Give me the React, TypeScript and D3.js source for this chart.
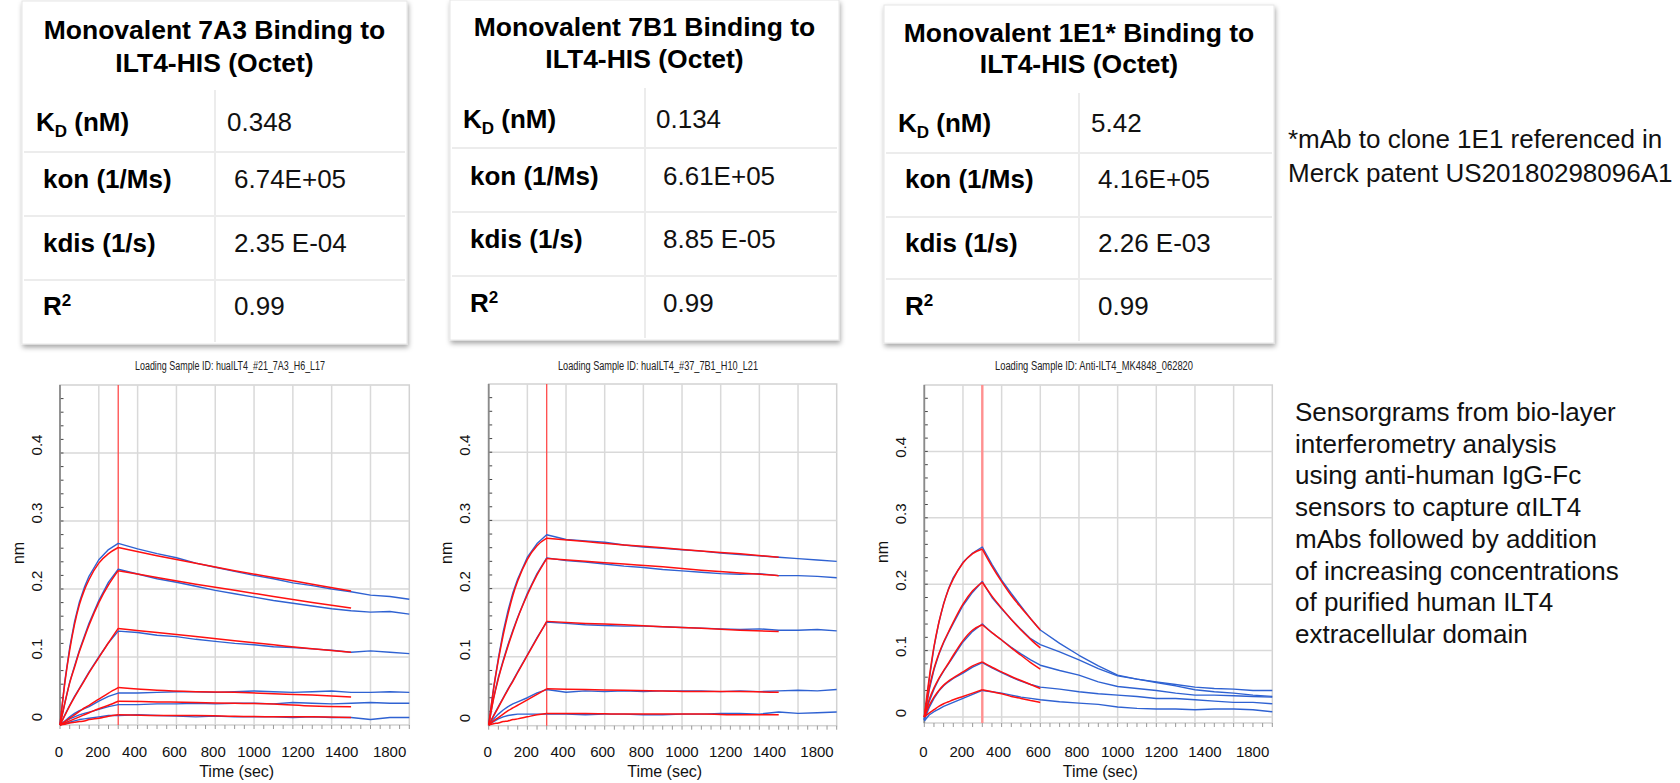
import React from 'react';
import * as d3 from 'd3';

const FONT = '"Liberation Sans", Arial, Helvetica, sans-serif';
const NARROW = '"Liberation Sans Narrow", "Liberation Sans", Arial, sans-serif';

// ---- table content ----
const tableTitles = [
  ['Monovalent 7A3 Binding to', 'ILT4-HIS (Octet)'],
  ['Monovalent 7B1 Binding to', 'ILT4-HIS (Octet)'],
  ['Monovalent 1E1* Binding to', 'ILT4-HIS (Octet)'],
];
const kdValues = ['0.348', '0.134', '5.42'];
const konValues = ['6.74E+05', '6.61E+05', '4.16E+05'];
const kdisValues = ['2.35 E-04', '8.85 E-05', '2.26 E-03'];
const r2Values = ['0.99', '0.99', '0.99'];

const footnote = ['*mAb to clone 1E1 referenced in', 'Merck patent US20180298096A1'];
const caption = [
  'Sensorgrams from bio-layer',
  'interferometry analysis',
  'using anti-human IgG-Fc',
  'sensors to capture \u03b1ILT4',
  'mAbs followed by addition',
  'of increasing concentrations',
  'of purified human ILT4',
  'extracellular domain',
];

const sampleIds = [
  'Loading Sample ID: huaILT4_#21_7A3_H6_L17',
  'Loading Sample ID: huaILT4_#37_7B1_H10_L21',
  'Loading Sample ID: Anti-ILT4_MK4848_062820',
];

// ---- axes ----
const xTicks = [0, 200, 400, 600, 800, 1000, 1200, 1400, 1800];
const yTicks = [0, 0.1, 0.2, 0.3, 0.4];

// ---- time grids (sec) ----
const assocT = [0, 25, 50, 75, 100, 125, 150, 200, 250, 300];
const dissocT = [300, 400, 500, 600, 700, 800, 900, 1000, 1100, 1200, 1300, 1400, 1500, 1600, 1700, 1800];
const fitT = [300, 500, 700, 900, 1100, 1300, 1500];
const dissocT1E1 = [300, 350, 400, 450, 500, 550, 600, 700, 800, 900, 1000, 1100, 1200, 1300, 1400, 1500, 1600, 1700, 1800];
const fitT1E1 = [300, 350, 400, 450, 500, 550, 600];

// ---- 7A3 (nm) ----
const assoc7A3Data = [
  [0, 0.065, 0.114, 0.152, 0.181, 0.202, 0.219, 0.243, 0.258, 0.267],
  [0, 0.033, 0.063, 0.087, 0.110, 0.130, 0.150, 0.183, 0.210, 0.229],
  [0, 0.015, 0.029, 0.042, 0.054, 0.066, 0.078, 0.100, 0.121, 0.138],
  [0, 0.006, 0.012, 0.017, 0.021, 0.024, 0.027, 0.035, 0.042, 0.047],
  [0, 0.005, 0.009, 0.012, 0.015, 0.017, 0.019, 0.023, 0.027, 0.030],
  [0, 0.002, 0.004, 0.006, 0.008, 0.009, 0.010, 0.012, 0.014, 0.014],
];
const assoc7A3Fit = [
  [0, 0.062, 0.110, 0.148, 0.177, 0.198, 0.214, 0.238, 0.252, 0.261],
  [0, 0.032, 0.062, 0.085, 0.108, 0.128, 0.147, 0.180, 0.206, 0.227],
  [0, 0.014, 0.028, 0.041, 0.053, 0.065, 0.077, 0.099, 0.121, 0.142],
  [0, 0.005, 0.010, 0.015, 0.020, 0.025, 0.029, 0.038, 0.047, 0.055],
  [0, 0.003, 0.006, 0.009, 0.012, 0.015, 0.018, 0.024, 0.029, 0.035],
  [0, 0.001, 0.003, 0.004, 0.005, 0.006, 0.008, 0.010, 0.013, 0.015],
];
const dissoc7A3Data = [
  [0.267, 0.259, 0.252, 0.246, 0.238, 0.232, 0.226, 0.220, 0.215, 0.209, 0.205, 0.200, 0.196, 0.191, 0.189, 0.185],
  [0.229, 0.222, 0.215, 0.210, 0.204, 0.198, 0.193, 0.188, 0.183, 0.179, 0.175, 0.171, 0.168, 0.166, 0.167, 0.163],
  [0.138, 0.136, 0.132, 0.130, 0.126, 0.123, 0.120, 0.118, 0.115, 0.114, 0.112, 0.110, 0.107, 0.109, 0.107, 0.105],
  [0.047, 0.047, 0.048, 0.049, 0.049, 0.048, 0.049, 0.050, 0.049, 0.048, 0.049, 0.050, 0.048, 0.048, 0.049, 0.048],
  [0.030, 0.030, 0.031, 0.031, 0.032, 0.031, 0.032, 0.032, 0.031, 0.033, 0.032, 0.031, 0.032, 0.033, 0.032, 0.032],
  [0.014, 0.015, 0.014, 0.013, 0.012, 0.013, 0.012, 0.012, 0.012, 0.011, 0.012, 0.011, 0.011, 0.008, 0.011, 0.011],
];
const dissoc7A3Fit = [
  [0.261, 0.249, 0.238, 0.227, 0.217, 0.207, 0.197],
  [0.227, 0.217, 0.207, 0.198, 0.189, 0.180, 0.172],
  [0.142, 0.136, 0.130, 0.124, 0.118, 0.112, 0.107],
  [0.055, 0.051, 0.049, 0.048, 0.046, 0.044, 0.041],
  [0.035, 0.034, 0.033, 0.032, 0.031, 0.028, 0.027],
  [0.015, 0.014, 0.014, 0.013, 0.012, 0.012, 0.011],
];

// ---- 7B1 (nm) ----
const assoc7B1Data = [
  [0, 0.054, 0.098, 0.137, 0.168, 0.194, 0.214, 0.246, 0.266, 0.279],
  [0, 0.040, 0.070, 0.095, 0.118, 0.139, 0.158, 0.193, 0.222, 0.245],
  [0, 0.014, 0.027, 0.040, 0.053, 0.065, 0.078, 0.103, 0.128, 0.151],
  [0, 0.009, 0.016, 0.022, 0.027, 0.031, 0.034, 0.040, 0.047, 0.052],
  [0, 0.005, 0.009, 0.012, 0.014, 0.015, 0.016, 0.016, 0.016, 0.016],
];
const assoc7B1Fit = [
  [0, 0.052, 0.095, 0.132, 0.163, 0.190, 0.211, 0.243, 0.263, 0.274],
  [0, 0.038, 0.068, 0.093, 0.116, 0.137, 0.157, 0.191, 0.220, 0.244],
  [0, 0.013, 0.026, 0.039, 0.052, 0.064, 0.077, 0.102, 0.127, 0.152],
  [0, 0.006, 0.011, 0.016, 0.021, 0.025, 0.029, 0.037, 0.045, 0.053],
  [0, 0.002, 0.003, 0.005, 0.006, 0.008, 0.009, 0.012, 0.015, 0.017],
];
const dissoc7B1Data = [
  [0.279, 0.272, 0.270, 0.268, 0.264, 0.261, 0.259, 0.257, 0.255, 0.252, 0.250, 0.248, 0.246, 0.244, 0.242, 0.240],
  [0.245, 0.241, 0.239, 0.236, 0.233, 0.231, 0.228, 0.226, 0.224, 0.222, 0.221, 0.222, 0.219, 0.219, 0.218, 0.216],
  [0.151, 0.149, 0.147, 0.146, 0.145, 0.145, 0.144, 0.143, 0.142, 0.141, 0.140, 0.141, 0.139, 0.139, 0.140, 0.138],
  [0.052, 0.048, 0.050, 0.049, 0.050, 0.049, 0.050, 0.050, 0.050, 0.049, 0.050, 0.049, 0.050, 0.051, 0.050, 0.052],
  [0.016, 0.016, 0.015, 0.016, 0.016, 0.015, 0.015, 0.016, 0.016, 0.017, 0.017, 0.016, 0.019, 0.017, 0.018, 0.019],
];
const dissoc7B1Fit = [
  [0.274, 0.269, 0.264, 0.260, 0.255, 0.251, 0.246],
  [0.244, 0.240, 0.236, 0.232, 0.227, 0.223, 0.219],
  [0.152, 0.149, 0.147, 0.144, 0.142, 0.139, 0.137],
  [0.053, 0.052, 0.051, 0.050, 0.049, 0.049, 0.048],
  [0.017, 0.017, 0.016, 0.016, 0.016, 0.015, 0.015],
];

// ---- 1E1 (nm) ----
const assoc1E1Data = [
  [-0.004, 0.055, 0.105, 0.142, 0.171, 0.193, 0.210, 0.233, 0.247, 0.256],
  [-0.004, 0.040, 0.071, 0.094, 0.112, 0.127, 0.141, 0.168, 0.188, 0.204],
  [-0.004, 0.023, 0.042, 0.057, 0.069, 0.080, 0.091, 0.113, 0.129, 0.140],
  [-0.004, 0.014, 0.028, 0.039, 0.047, 0.053, 0.058, 0.066, 0.075, 0.082],
  [-0.006, 0.003, 0.008, 0.012, 0.016, 0.019, 0.022, 0.028, 0.034, 0.040],
];
const assoc1E1Fit = [
  [0, 0.058, 0.106, 0.142, 0.170, 0.192, 0.208, 0.232, 0.246, 0.253],
  [0, 0.043, 0.073, 0.095, 0.113, 0.128, 0.143, 0.170, 0.190, 0.203],
  [0, 0.026, 0.044, 0.058, 0.070, 0.081, 0.093, 0.115, 0.131, 0.139],
  [0, 0.017, 0.030, 0.040, 0.048, 0.054, 0.059, 0.068, 0.077, 0.083],
  [0, 0.006, 0.011, 0.016, 0.020, 0.023, 0.026, 0.031, 0.036, 0.041],
];
const dissoc1E1Data = [
  [0.256, 0.230, 0.206, 0.186, 0.167, 0.148, 0.131, 0.111, 0.093, 0.077, 0.063, 0.057, 0.053, 0.049, 0.045, 0.043, 0.042, 0.040, 0.040],
  [0.204, 0.180, 0.163, 0.147, 0.132, 0.118, 0.109, 0.098, 0.086, 0.073, 0.062, 0.057, 0.052, 0.047, 0.041, 0.038, 0.036, 0.033, 0.031],
  [0.140, 0.127, 0.116, 0.105, 0.095, 0.086, 0.078, 0.070, 0.063, 0.053, 0.046, 0.043, 0.040, 0.036, 0.033, 0.033, 0.032, 0.031, 0.030],
  [0.082, 0.074, 0.067, 0.060, 0.054, 0.049, 0.045, 0.042, 0.038, 0.035, 0.033, 0.031, 0.028, 0.028, 0.026, 0.024, 0.022, 0.022, 0.020],
  [0.040, 0.038, 0.036, 0.033, 0.030, 0.028, 0.026, 0.023, 0.021, 0.019, 0.015, 0.013, 0.012, 0.012, 0.011, 0.012, 0.012, 0.011, 0.008],
];
const dissoc1E1Fit = [
  [0.253, 0.227, 0.204, 0.183, 0.165, 0.148, 0.131],
  [0.203, 0.182, 0.164, 0.147, 0.131, 0.117, 0.104],
  [0.139, 0.127, 0.116, 0.104, 0.093, 0.082, 0.072],
  [0.083, 0.075, 0.068, 0.061, 0.055, 0.049, 0.043],
  [0.041, 0.038, 0.035, 0.031, 0.028, 0.025, 0.022],
];

// ---- layout ----
const cards = [
  { x: 22, y: 1, w: 385, h: 343, titleY: [39, 72], headTop: 90, rows: [152, 216, 280], col: 215, labelX: 36, valueX: 227, base: [131, 188, 252, 315] },
  { x: 450, y: 0, w: 389, h: 340, titleY: [36, 68], headTop: 88, rows: [148, 212, 276], col: 645, labelX: 463, valueX: 656, base: [128, 185, 248, 312] },
  { x: 884, y: 5, w: 390, h: 338, titleY: [42, 73], headTop: 93, rows: [153, 217, 279], col: 1079, labelX: 898, valueX: 1091, base: [132, 188, 252, 315] },
];

const plots = [
  { left: 60, right: 409.3, top: 385, bottom: 725, yMin: 0, labelDy: -8, idX: 230, idW: 190, vline: '#ff4a4a', vw: 1.3 },
  { left: 488.7, right: 836.7, top: 384, bottom: 725.7, yMin: -0.001, labelDy: -7, idX: 658, idW: 200, vline: '#ff4a4a', vw: 1.3 },
  { left: 924.3, right: 1272.3, top: 385, bottom: 723, yMin: -0.009, labelDy: -4, idX: 1094, idW: 198, vline: '#ff9090', vw: 2.4 },
];
const xLabelNudge = [-1, -1, -3, -2, -2, 0, 5, 10];

const BLUE = '#2f62d2';
const RED = '#ff1010';

type Pt = [number, number];

function Sensorgram({ cfg, id, aData, aFit, dT, dData, fT, dFit }: any) {
  const x = d3.scaleLinear().domain([0, 1800]).range([cfg.left, cfg.right]);
  const y = d3.scaleLinear().domain([cfg.yMin, 0.5]).range([cfg.bottom, cfg.top]);
  const raw = d3.line<Pt>().x(d => x(d[0])).y(d => y(d[1]));
  const smooth = d3.line<Pt>().x(d => x(d[0])).y(d => y(d[1])).curve(d3.curveMonotoneX);

  const dataSeries: Pt[][] = aData.map((vals: number[], k: number) =>
    assocT.map((t, i) => [t, vals[i]] as Pt).concat(dT.slice(1).map((t: number, i: number) => [t, dData[k][i + 1]] as Pt)));
  const fitAssoc: Pt[][] = aFit.map((vals: number[]) => assocT.map((t, i) => [t, vals[i]] as Pt));
  const fitDissoc: Pt[][] = dFit.map((vals: number[]) => fT.map((t: number, i: number) => [t, vals[i]] as Pt));

  const vGrid = d3.range(200, 1800, 200);
  const hGrid = cfg.yMin < -0.003 ? [0, 0.1, 0.2, 0.3, 0.4] : [0.1, 0.2, 0.3, 0.4];
  const yMinor = d3.range(0.02, 0.5, 0.02);
  const xMinor = d3.range(0, 1801, 50);
  const midX = (cfg.left + cfg.right) / 2;
  const midY = (cfg.top + cfg.bottom) / 2;

  return (
    <g>
      <text x={cfg.idX} y={370} textAnchor="middle" fontFamily={NARROW} fontSize={12} fill="#222"
        textLength={cfg.idW} lengthAdjust="spacingAndGlyphs">{id}</text>
      <rect x={cfg.left} y={cfg.top} width={cfg.right - cfg.left} height={cfg.bottom - cfg.top} fill="#fff" stroke="#d2d2d2" strokeWidth={1.5} />
      {vGrid.map(t => <line key={'v' + t} x1={x(t)} x2={x(t)} y1={cfg.top} y2={cfg.bottom} stroke="#d9d9d9" strokeWidth={1.5} />)}
      {hGrid.map(v => <line key={'h' + v} x1={cfg.left} x2={cfg.right} y1={y(v)} y2={y(v)} stroke="#d9d9d9" strokeWidth={1.5} />)}
      {yMinor.map(v => <line key={'ym' + v} x1={cfg.left} x2={cfg.left + 3.5} y1={y(v)} y2={y(v)} stroke="#444" strokeWidth={1} />)}
      {xMinor.map(t => <line key={'xm' + t} x1={x(t)} x2={x(t)} y1={cfg.bottom} y2={cfg.bottom + 4} stroke="#999" strokeWidth={1} />)}
      <line x1={cfg.left} x2={cfg.left} y1={cfg.top} y2={cfg.bottom} stroke="#8a8a8a" strokeWidth={1.8} />
      <line x1={x(300)} x2={x(300)} y1={cfg.top} y2={cfg.bottom} stroke={cfg.vline} strokeWidth={cfg.vw} />
      {dataSeries.map((s, i) => <path key={'d' + i} d={raw(s) || ''} fill="none" stroke={BLUE} strokeWidth={1.4} strokeLinejoin="round" />)}
      {fitAssoc.map((s, i) => <path key={'fa' + i} d={smooth(s) || ''} fill="none" stroke={RED} strokeWidth={1.5} />)}
      {fitDissoc.map((s, i) => <path key={'fd' + i} d={smooth(s) || ''} fill="none" stroke={RED} strokeWidth={1.5} />)}
      {yTicks.map(v => (
        <text key={'yl' + v} transform={`translate(${cfg.left - 24},${y(v) + cfg.labelDy}) rotate(-90)`} textAnchor="middle"
          dominantBaseline="central" fontFamily={FONT} fontSize={15} fill="#111">{v === 0 ? '0' : v.toFixed(1)}</text>
      ))}
      {xTicks.map((t, i) => i < xTicks.length - 1 ? (
        <text key={'xl' + t} x={x(t) + xLabelNudge[i]} y={757} textAnchor="middle" fontFamily={FONT} fontSize={15} fill="#111">{t}</text>
      ) : (
        <text key={'xl' + t} x={x(t) - 3} y={757} textAnchor="end" fontFamily={FONT} fontSize={15} fill="#111">{t}</text>
      ))}
      <text x={midX + 2} y={777} textAnchor="middle" fontFamily={FONT} fontSize={16} fill="#111">Time (sec)</text>
      <text transform={`translate(${cfg.left - 42},${midY - 2}) rotate(-90)`} textAnchor="middle" dominantBaseline="central"
        fontFamily={FONT} fontSize={16} fill="#111">nm</text>
    </g>
  );
}

function Card({ c, i }: any) {
  const cx = c.x + c.w / 2;
  const lineC = '#ececec';
  return (
    <g>
      <rect x={c.x} y={c.y} width={c.w} height={c.h} fill="#fff" stroke="#e6e6e6" strokeWidth={1} filter="url(#cardShadow)" />
      {tableTitles[i].map((t, k) => (
        <text key={k} x={cx} y={c.titleY[k]} textAnchor="middle" fontFamily={FONT} fontWeight="bold" fontSize={26.5} fill="#000">{t}</text>
      ))}
      {c.rows.map((ry: number) => <line key={ry} x1={c.x + 2} x2={c.x + c.w - 2} y1={ry} y2={ry} stroke={lineC} strokeWidth={2} />)}
      <line x1={c.col} x2={c.col} y1={c.headTop} y2={c.y + c.h - 2} stroke={lineC} strokeWidth={2} />
      <text x={c.labelX} y={c.base[0]} fontFamily={FONT} fontWeight="bold" fontSize={26} fill="#000">
        K<tspan fontSize={17} dy={6}>D</tspan><tspan dy={-6}> (nM)</tspan>
      </text>
      <text x={c.labelX + 7} y={c.base[1]} fontFamily={FONT} fontWeight="bold" fontSize={26} fill="#000">kon (1/Ms)</text>
      <text x={c.labelX + 7} y={c.base[2]} fontFamily={FONT} fontWeight="bold" fontSize={26} fill="#000">kdis (1/s)</text>
      <text x={c.labelX + 7} y={c.base[3]} fontFamily={FONT} fontWeight="bold" fontSize={26} fill="#000">
        R<tspan fontSize={17} dy={-9}>2</tspan>
      </text>
      <text x={c.valueX} y={c.base[0]} fontFamily={FONT} fontSize={26} fill="#111">{kdValues[i]}</text>
      <text x={c.valueX + 7} y={c.base[1]} fontFamily={FONT} fontSize={26} fill="#111">{konValues[i]}</text>
      <text x={c.valueX + 7} y={c.base[2]} fontFamily={FONT} fontSize={26} fill="#111">{kdisValues[i]}</text>
      <text x={c.valueX + 7} y={c.base[3]} fontFamily={FONT} fontSize={26} fill="#111">{r2Values[i]}</text>
    </g>
  );
}

export default function App() {
  const sets = [
    { aData: assoc7A3Data, aFit: assoc7A3Fit, dT: dissocT, dData: dissoc7A3Data, fT: fitT, dFit: dissoc7A3Fit },
    { aData: assoc7B1Data, aFit: assoc7B1Fit, dT: dissocT, dData: dissoc7B1Data, fT: fitT, dFit: dissoc7B1Fit },
    { aData: assoc1E1Data, aFit: assoc1E1Fit, dT: dissocT1E1, dData: dissoc1E1Data, fT: fitT1E1, dFit: dissoc1E1Fit },
  ];
  return (
    <svg width={1680} height={783} viewBox="0 0 1680 783"
      style={{ position: 'absolute', left: 0, top: 0, display: 'block', background: '#fff' }}>
      <defs>
        <filter id="cardShadow" x="-5%" y="-5%" width="112%" height="115%">
          <feDropShadow dx={1} dy={3} stdDeviation={2.5} floodColor="#000" floodOpacity={0.35} />
        </filter>
      </defs>
      <rect x={0} y={0} width={1680} height={783} fill="#fff" />
      {cards.map((c, i) => <Card key={i} c={c} i={i} />)}
      {footnote.map((t, i) => (
        <text key={i} x={1288} y={148 + i * 34} fontFamily={FONT} fontSize={26} fill="#111">{t}</text>
      ))}
      {plots.map((p, i) => <Sensorgram key={i} cfg={p} id={sampleIds[i]} {...sets[i]} />)}
      {caption.map((t, i) => (
        <text key={i} x={1295} y={421 + i * 31.7} fontFamily={FONT} fontSize={26} fill="#111">{t}</text>
      ))}
    </svg>
  );
}
